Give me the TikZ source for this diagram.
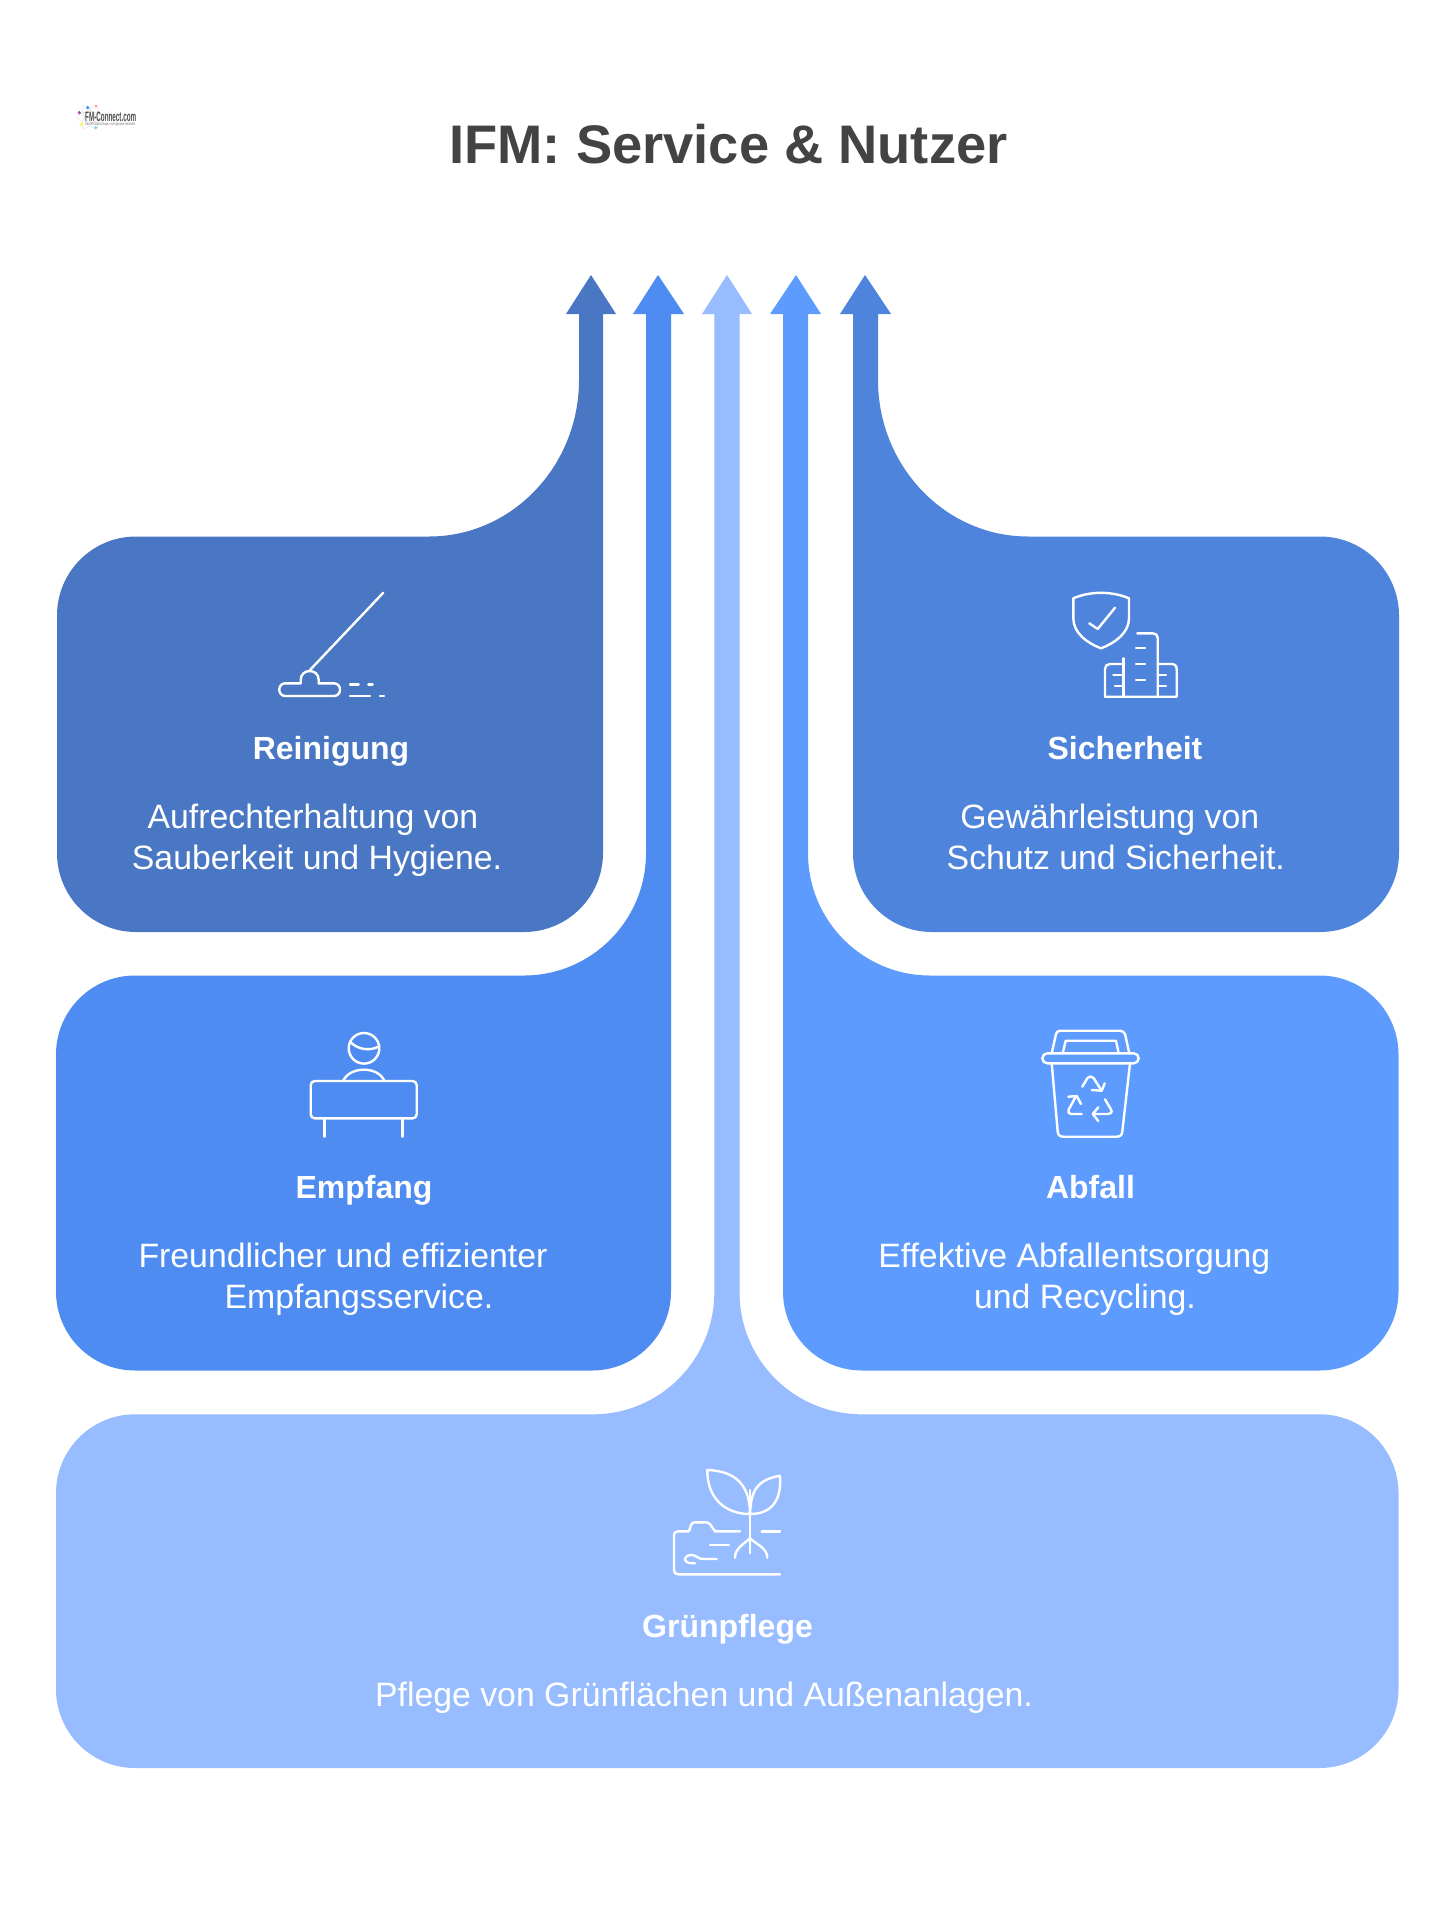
\documentclass[tikz,border=0pt]{standalone}
\usepackage{fontspec}
\setmainfont{Liberation Sans}
\definecolor{cRein}{HTML}{4977C3}
\definecolor{cEmpf}{HTML}{4E8CF2}
\definecolor{cGrun}{HTML}{97BCFF}
\definecolor{cAbf}{HTML}{5E9BFF}
\definecolor{cSich}{HTML}{4F84DC}
\definecolor{cTitle}{HTML}{434343}
\tikzset{
 icon/.style={draw=white,line width=2.4pt,line cap=round,line join=round},
 txt/.style={text=white,inner sep=0pt,font=\fontsize{33.8}{38}\selectfont,text height=24pt,text depth=7pt},
 head/.style={text=white,inner sep=0pt,font=\fontsize{32}{36}\selectfont\bfseries,text height=24pt,text depth=7pt},
}
\begin{document}
\begin{tikzpicture}[x=1pt,y=-1pt]
\useasboundingbox (0,0) rectangle (1456,1920);
\fill[white] (0,0) rectangle (1456,1920);
% ---------- shapes
\fill[cRein] (591,275) -- (616,314) -- (603,314) [rounded corners=79pt] -- (603,932) -- (57,932) -- (57,536.5) [sharp corners] -- (429,536.5)
  .. controls (512,536.5) and (579,466) .. (579,380) -- (579,314) -- (566,314) -- cycle;
\fill[cSich] (865,275) -- (891,314) -- (878,314) -- (878,380)
  .. controls (878,466) and (945,536.5) .. (1028,536.5) [rounded corners=79pt] -- (1399,536.5) -- (1399,932) -- (853,932) [sharp corners] -- (853,314) -- (840,314) -- cycle;
\fill[cEmpf] (658,275) -- (684,314) -- (671,314) [rounded corners=79pt] -- (671,1370.5) -- (56,1370.5) -- (56,975.5) [sharp corners] -- (524,975.5)
  .. controls (591,975.5) and (646,921) .. (646,853) -- (646,314) -- (633,314) -- cycle;
\fill[cAbf] (796,275) -- (821,314) -- (808,314) -- (808,853)
  .. controls (808,921) and (863,975.5) .. (930,975.5) [rounded corners=79pt] -- (1398.5,975.5) -- (1398.5,1370.5) -- (783,1370.5) [sharp corners] -- (783,314) -- (770,314) -- cycle;
\fill[cGrun] (727,275) -- (752,314) -- (739.5,314) -- (739.5,1292)
  .. controls (739.5,1360) and (794,1414.3) .. (862,1414.3) [rounded corners=79pt] -- (1398.5,1414.3) -- (1398.5,1768) -- (56,1768) -- (56,1414.3) [sharp corners] -- (593,1414.3)
  .. controls (660,1414.3) and (714.3,1360) .. (714.3,1292) -- (714.3,314) -- (702,314) -- cycle;
% ---------- title
\node[inner sep=0pt,text=cTitle,font=\fontsize{54.3}{60}\selectfont\bfseries] (title) at (728.5,144) {IFM: Service \& Nutzer};
% ---------- logo
\draw[black!10,line width=.6pt] (90,117) ellipse (13 and 5);
\draw[black!10,line width=.6pt,rotate around={60:(90,117)}] (90,117) ellipse (13 and 5);
\draw[black!10,line width=.6pt,rotate around={-60:(90,117)}] (90,117) ellipse (13 and 5);
\fill[violet!70] (79.3,112.7) circle (1.8);
\fill[blue!60!cyan!70] (87.7,107.7) circle (1.8);
\fill[red!50!orange!50] (96,106) circle (1.5);
\fill[yellow!70] (81,124.3) circle (1.8);
\fill[cyan!50] (95.7,127.7) circle (1.8);
\node[inner sep=0pt,anchor=west,text=black!70] (logoname) at (85,116.5) {\resizebox{51pt}{9.5pt}{\bfseries FM-Connect.com}};
\node[inner sep=0pt,anchor=west,text=black!55] (logosub) at (85,124.5) {\resizebox{50pt}{3pt}{Das FM-Nachschlage- und Ingenieur-Netzwerk}};
% ---------- texts
\node[head] (h1) at (331,750.5) {Reinigung};
\node[txt] (t1a) at (313,820) {Aufrechterhaltung von};
\node[txt] (t1b) at (317,860.5) {Sauberkeit und Hygiene.};
\node[head] (h2) at (1125,750.5) {Sicherheit};
\node[txt] (t2a) at (1109.8,820) {Gewährleistung von};
\node[txt] (t2b) at (1115.8,860.5) {Schutz und Sicherheit.};
\node[head] (h3) at (364,1189.5) {Empfang};
\node[txt] (t3a) at (343,1259) {Freundlicher und effizienter};
\node[txt] (t3b) at (359,1299.5) {Empfangsservice.};
\node[head] (h4) at (1090.5,1189.5) {Abfall};
\node[txt] (t4a) at (1074.3,1259) {Effektive Abfallentsorgung};
\node[txt] (t4b) at (1085,1299.5) {und Recycling.};
\node[head] (h5) at (727.5,1629) {Grünpflege};
\node[txt] (t5a) at (704,1698) {Pflege von Grünflächen und Außenanlagen.};
% ---------- broom
\draw[icon] (383.3,592.7) -- (310,670);
\draw[icon,rounded corners=6pt] (300.7,683.3) -- (279.3,683.3) -- (279.3,696) -- (340,696) -- (340,683.3) -- (318.7,683.3);
\draw[icon] (300.7,683.3) -- (300.7,680) .. controls (300.7,668) and (318.7,668) .. (318.7,680) -- (318.7,683.3);
\draw[icon] (350,684.3) -- (358.7,684.3) (368.3,684.3) -- (372.7,684.3) (350,696) -- (370,696) (380,696) -- (384,696);
% ---------- shield + buildings
\draw[icon] (1073.3,598.3) .. controls (1090,591) and (1112,591) .. (1129,598.3) -- (1129,618) .. controls (1129,633) and (1115,643) .. (1101,648.3) .. controls (1087,643) and (1073.3,633) .. (1073.3,618) -- cycle;
\draw[icon] (1089.3,623.3) -- (1097.7,629) -- (1115,607.7);
\draw[icon] (1105,696.7) -- (1176.7,696.7) -- (1176.7,669.3) .. controls (1176.7,666) and (1175,664) .. (1171.7,664) -- (1157.7,664);
\draw[icon] (1105,696.7) -- (1105,669) .. controls (1105,666) and (1107,664) .. (1110,664) -- (1123.3,664);
\draw[icon] (1123.3,658.3) -- (1123.3,696.7);
\draw[icon] (1157.7,696.7) -- (1157.7,638) .. controls (1157.7,635) and (1155.7,633.3) .. (1152.7,633.3) -- (1137.3,633.3);
\draw[icon] (1136,648) -- (1145,648) (1136,664) -- (1145,664) (1136,680) -- (1145,680)
  (1113.3,675) -- (1122.7,675) (1115,686) -- (1122.7,686) (1158,675) -- (1166,675) (1158,686) -- (1166,686);
% ---------- person at desk
\draw[icon] (364,1048.3) circle (15.3);
\draw[icon] (350,1041.7) .. controls (358,1050) and (370,1051) .. (378.3,1046.7);
\draw[icon] (343.3,1080.7) .. controls (350,1066) and (378,1066) .. (384.3,1080.7);
\draw[icon,rounded corners=4pt] (310.7,1081) rectangle (416.7,1118.3);
\draw[icon] (324.3,1118.3) -- (324.3,1136.7) (402.3,1118.3) -- (402.3,1136.7);
% ---------- bin
\draw[icon,rounded corners=5pt] (1042.3,1053.3) rectangle (1138.7,1063.3);
\draw[icon] (1051.7,1053.3) -- (1056,1034) .. controls (1056.7,1032) and (1058,1030.7) .. (1060,1030.7) -- (1120,1030.7) .. controls (1122,1030.7) and (1124,1032) .. (1125,1034) -- (1129.3,1053.3);
\draw[icon] (1062.7,1053.3) -- (1065.7,1040.7) -- (1116,1040.7) -- (1118.7,1053.3);
\draw[icon] (1051.7,1063.3) -- (1057.7,1131.7) .. controls (1058,1135) and (1060,1136.7) .. (1063.3,1136.7) -- (1116.7,1136.7) .. controls (1120,1136.7) and (1122,1135) .. (1122.3,1131.7) -- (1130,1063.3);
\draw[icon] (1082.3,1086.7) -- (1087.5,1078) .. controls (1089,1076) and (1092,1076) .. (1093.5,1078) -- (1101.7,1090.7);
\draw[icon] (1091.7,1090) -- (1101.7,1090.7) -- (1104.7,1083.3);
\draw[icon] (1081.7,1114) -- (1071,1114) .. controls (1068.5,1114) and (1067.5,1111.5) .. (1068.7,1109.5) -- (1075.5,1097);
\draw[icon] (1068.3,1096.7) -- (1076.7,1096) -- (1081,1104);
\draw[icon] (1105,1099.3) -- (1111,1109.5) .. controls (1112.5,1112) and (1111,1114) .. (1108.3,1114) -- (1093.3,1114);
\draw[icon] (1098.3,1107.3) -- (1092.7,1114) -- (1098.3,1121);
% ---------- plant
\draw[icon] (750,1514) .. controls (750,1490) and (740,1471) .. (707.3,1470) .. controls (707,1498) and (725,1514) .. (750,1514);
\draw[icon] (750,1514) .. controls (751,1490) and (757,1480) .. (780,1475.7) .. controls (782,1502) and (770,1514) .. (750,1514);
\draw[icon] (750,1490) -- (750,1553.3);
\draw[icon] (750,1538.3) .. controls (744,1544) and (735,1548) .. (735,1557.7);
\draw[icon] (750,1538.3) .. controls (756,1544) and (767.3,1548) .. (767.3,1557.7);
\draw[icon] (740,1531.3) -- (715,1531.3) -- (710,1524) .. controls (709,1523) and (708,1522.3) .. (706.7,1522.3) -- (695,1522.3) .. controls (693,1522.3) and (692,1523) .. (691,1525) -- (689,1531.3) -- (678.3,1531.3) .. controls (675.5,1531.3) and (674,1533) .. (674,1535) -- (674,1570) .. controls (674,1573) and (675.5,1574.3) .. (678.3,1574.3) -- (780,1574.3);
\draw[icon] (761.7,1531.3) -- (780,1531.3) (710,1545) -- (729,1545);
\draw[icon] (716.7,1559) -- (703,1559) .. controls (698,1559) and (696,1555) .. (692,1555) .. controls (687,1555) and (685,1557) .. (685,1559) .. controls (685,1562) and (688,1563.3) .. (695,1563.3);
\end{tikzpicture}
\end{document}
